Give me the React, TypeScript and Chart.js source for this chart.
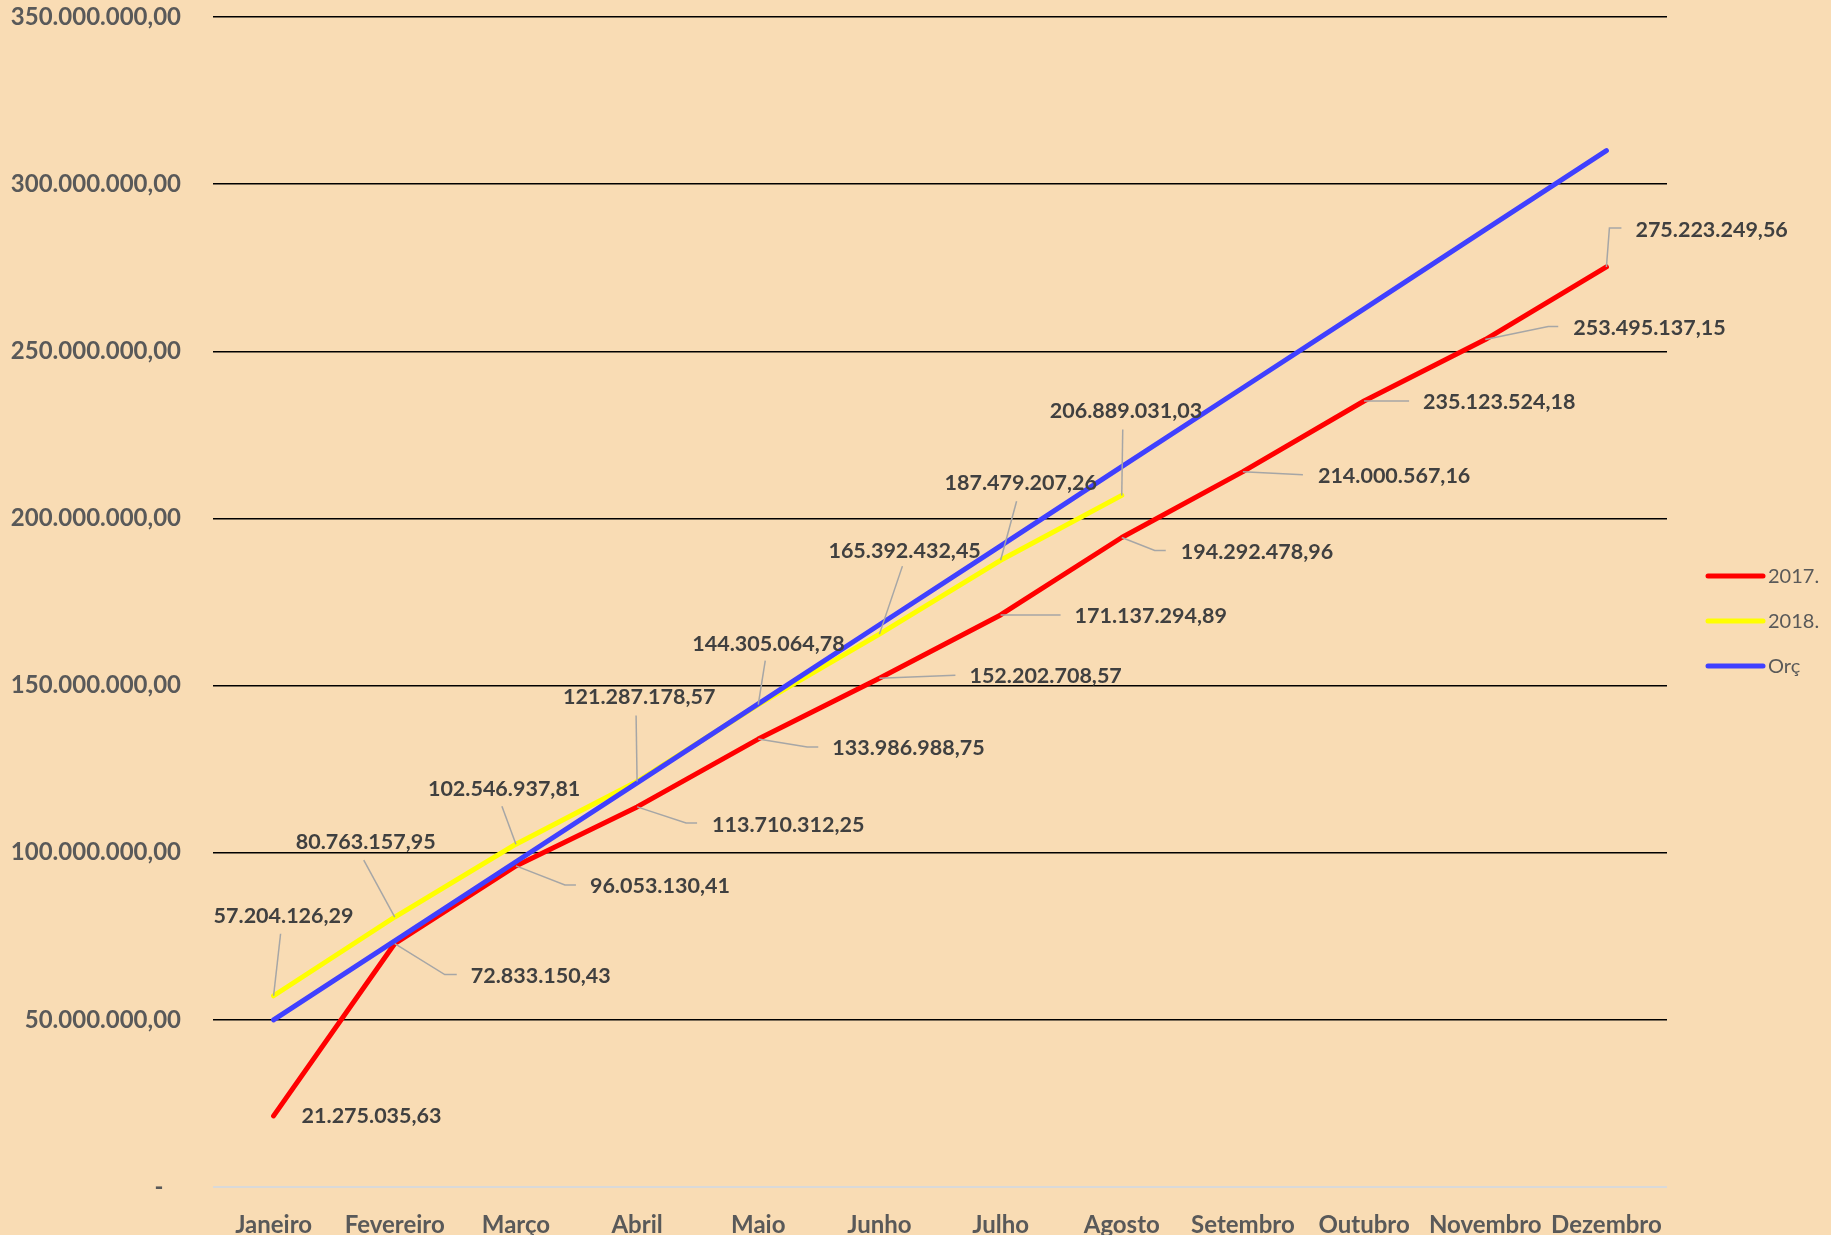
import React, { useEffect, useRef } from 'react';
import { Chart, registerables } from 'chart.js';

Chart.register(...registerables);

// ---- Data ----
const months = ['Janeiro', 'Fevereiro', 'Março', 'Abril', 'Maio', 'Junho', 'Julho', 'Agosto', 'Setembro', 'Outubro', 'Novembro', 'Dezembro'];

const series2017 = [
  21275035.63, 72833150.43, 96053130.41, 113710312.25, 133986988.75, 152202708.57,
  171137294.89, 194292478.96, 214000567.16, 235123524.18, 253495137.15, 275223249.56,
];

const series2018 = [
  57204126.29, 80763157.95, 102546937.81, 121287178.57, 144305064.78, 165392432.45,
  187479207.26, 206889031.03,
];

const seriesOrc = [
  50000000, 73600000, 97300000, 120900000, 144500000, 168200000,
  191800000, 215500000, 239100000, 262700000, 286400000, 310000000,
];

const seriesNames = ['2017.', '2018.', 'Orç'];
const yMin = 0;
const yMax = 350000000;
const yStep = 50000000;

// ---- Label placement (styling, relative to each point) ----
const labelOffsets2017: [number, number][] = [
  [28, 0], [76, 33], [74, 20], [75, 18], [74, 9], [90, -2],
  [74, 1], [59, 15], [75, 4], [59, 1], [88, -12], [29, -37],
];
const leaders2017: [number, number][][] = [
  [], [[50, 31], [62, 31]], [[49, 19], [60, 19]], [[49, 16], [60, 16]], [[49, 8], [60, 8]], [[76, -3]],
  [[60, 0]], [[33, 13], [44, 13]], [[60, 3]], [[45, 0]], [[63, -13], [73, -13]], [[3, -39], [15, -39]],
];
const labelOffsets2018: [number, number][] = [
  [-60, -80], [-99, -75], [-88, -55], [-74, -84], [-66, -61], [-51, -83], [-56, -77], [-72, -84],
];
const leaders2018: [number, number][][] = [
  [[7, -62]], [[-31, -57]], [[-14, -38]], [[-1, -66]], [[7, -44]], [[23, -68]], [[16, -59]], [[1, -66]],
];

const COLORS = ['#FF0000', '#FFFF00', '#4040FF'];
const BG = '#F9DCB4';
const FONT = 'Lato, "Open Sans", "DejaVu Sans", sans-serif';

function fmt(v: number): string {
  const neg = v < 0;
  const fixed = Math.abs(v).toFixed(2);
  const [intPart, dec] = fixed.split('.');
  const intF = intPart.replace(/\B(?=(\d{3})+(?!\d))/g, '.');
  return (neg ? '-' : '') + intF + ',' + dec;
}

const valueLabelPlugin = {
  id: 'valueLabels',
  afterDatasetsDraw(chart: any) {
    const ctx = chart.ctx as CanvasRenderingContext2D;
    ctx.save();
    const groups = [
      { idx: 0, values: series2017, offsets: labelOffsets2017, leaders: leaders2017 },
      { idx: 1, values: series2018, offsets: labelOffsets2018, leaders: leaders2018 },
    ];
    groups.forEach((g) => {
      const meta = chart.getDatasetMeta(g.idx);
      meta.data.forEach((pt: any, i: number) => {
        const x = pt.x;
        const y = pt.y;
        const lead = g.leaders[i] || [];
        if (lead.length) {
          ctx.beginPath();
          ctx.moveTo(x, y);
          lead.forEach(([dx, dy]) => ctx.lineTo(x + dx, y + dy));
          ctx.strokeStyle = '#A6A6A6';
          ctx.lineWidth = 1.5;
          ctx.stroke();
        }
        const off = g.offsets[i];
        ctx.font = `bold 21.5px ${FONT}`;
        ctx.fillStyle = '#404040';
        ctx.textAlign = 'left';
        ctx.textBaseline = 'middle';
        ctx.fillText(fmt(g.values[i]), x + off[0], y + off[1]);
      });
    });
    ctx.restore();
  },
};

const legendPlugin = {
  id: 'customLegend',
  afterDraw(chart: any) {
    const ctx = chart.ctx as CanvasRenderingContext2D;
    ctx.save();
    const x0 = 1708;
    const x1 = 1763;
    const yStart = 576;
    const gap = 45;
    chart.data.datasets.forEach((ds: any, i: number) => {
      const y = yStart + i * gap;
      ctx.beginPath();
      ctx.moveTo(x0, y);
      ctx.lineTo(x1, y);
      ctx.strokeStyle = ds.borderColor;
      ctx.lineWidth = 5;
      ctx.lineCap = 'round';
      ctx.stroke();
      ctx.font = `20px ${FONT}`;
      ctx.fillStyle = '#595959';
      ctx.textAlign = 'left';
      ctx.textBaseline = 'middle';
      ctx.fillText(ds.label, x1 + 5, y + 1);
    });
    ctx.restore();
  },
};

export default function App() {
  const canvasRef = useRef<HTMLCanvasElement | null>(null);

  useEffect(() => {
    document.body.style.margin = '0';
    const canvas = canvasRef.current;
    if (!canvas) return;
    const mk = (label: string, data: number[], color: string, order: number) => ({
      label,
      data,
      borderColor: color,
      backgroundColor: color,
      borderWidth: 5,
      pointRadius: 0,
      pointHoverRadius: 0,
      tension: 0,
      fill: false,
      borderCapStyle: 'round' as const,
      borderJoinStyle: 'round' as const,
      order,
    });
    const chart = new Chart(canvas, {
      type: 'line',
      data: {
        labels: months,
        datasets: [
          mk(seriesNames[0], series2017, COLORS[0], 2),
          mk(seriesNames[1], series2018, COLORS[1], 1),
          mk(seriesNames[2], seriesOrc, COLORS[2], 0),
        ],
      },
      options: {
        responsive: false,
        animation: false,
        events: [],
        layout: { padding: { left: 0, right: 164, top: 17, bottom: 0 } },
        plugins: {
          legend: { display: false },
          tooltip: { enabled: false },
          title: { display: false },
        },
        scales: {
          x: {
            type: 'category',
            offset: true,
            grid: { display: false, drawTicks: false },
            border: { display: false },
            ticks: {
              autoSkip: false,
              maxRotation: 0,
              minRotation: 0,
              padding: 24,
              color: '#595959',
              font: { family: FONT, size: 24, weight: 'bold' },
            },
            afterFit: (scale: any) => {
              scale.height = 48;
              scale.paddingLeft = 0;
              scale.paddingRight = 0;
            },
          },
          y: {
            min: yMin,
            max: yMax,
            border: { display: false },
            grid: {
              drawTicks: false,
              color: (c: any) => (c.tick && c.tick.value === 0 ? '#D9D9D9' : '#000000'),
              lineWidth: (c: any) => (c.tick && c.tick.value === 0 ? 2 : 1.5),
            },
            ticks: {
              stepSize: yStep,
              padding: 32,
              color: '#595959',
              font: { family: FONT, size: 24, weight: 'bold' },
              callback: (v: any) => (Number(v) === 0 ? '-   ' : fmt(Number(v))),
            },
            afterFit: (scale: any) => {
              scale.width = 213;
              scale.paddingTop = 0;
              scale.paddingBottom = 0;
            },
          },
        },
      },
      plugins: [valueLabelPlugin, legendPlugin],
    });
    return () => chart.destroy();
  }, []);

  return (
    <div style={{ position: 'fixed', left: 0, top: 0, width: 1831, height: 1235, background: BG }}>
      <canvas ref={canvasRef} width={1831} height={1235} style={{ display: 'block' }} />
    </div>
  );
}
